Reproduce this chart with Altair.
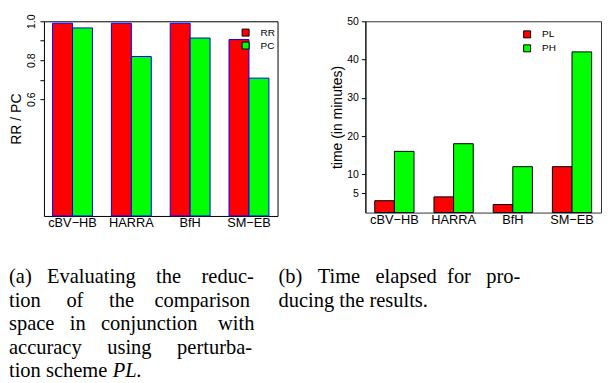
import altair as alt
import pandas as pd

# ---------------- data ----------------
methods = ["cBV−HB", "HARRA", "BfH", "SM−EB"]

left_series = ["RR", "PC"]
rr_values = [0.99, 0.99, 0.99, 0.906]
pc_values = [0.966, 0.819, 0.914, 0.708]
left_ticks = [0.6, 0.7, 0.8, 0.9, 1.0]

right_series = ["PL", "PH"]
pl_values = [3.1, 4.1, 2.1, 12.0]
ph_values = [16.0, 18.0, 12.0, 42.0]
right_ticks = [5, 10, 20, 30, 40, 50]

NB = "\u00a0"
caption_a = [
    "(a)" + NB * 3 + "Evaluating" + NB * 4 + "the" + NB * 4 + "reduc-",
    "tion" + NB * 5 + "of" + NB * 5 + "the" + NB * 4 + "comparison",
    "space" + NB * 3 + "in" + NB * 3 + "conjunction" + NB * 4 + "with",
    "accuracy" + NB * 5 + "using" + NB * 5 + "perturba-",
    "tion scheme ",
]
caption_a_italic = ["PL."]
caption_b = [
    "(b)" + NB * 3 + "Time" + NB * 3 + "elapsed" + NB * 2 + "for" + NB * 3 + "pro-",
    "ducing the results.",
]

RED = "#ff0000"
GREEN = "#00ff00"
SANS = "Liberation Sans"
SERIF = "Liberation Serif"

left_df = pd.DataFrame({
    "method": methods * 2,
    "series": [left_series[0]] * len(methods) + [left_series[1]] * len(methods),
    "value": rr_values + pc_values,
})
right_df = pd.DataFrame({
    "method": methods * 2,
    "series": [right_series[0]] * len(methods) + [right_series[1]] * len(methods),
    "value": pl_values + ph_values,
})

def legend(x, y, row_pad):
    return alt.Legend(
        title=None, orient="none", legendX=x, legendY=y, padding=0,
        symbolType="square", symbolSize=49, symbolStrokeColor="black",
        symbolStrokeWidth=1, symbolOpacity=1, labelFont=SANS, labelFontSize=10,
        labelColor="black", labelOffset=10, rowPadding=row_pad,
    )

x_axis = alt.Axis(ticks=False, tickSize=0, domain=False, labelAngle=0, labelPadding=1,
                  labelFontSize=12.8, labelColor="black", labelFont=SANS)

left = alt.Chart(left_df).mark_bar(stroke="#0000ff", strokeWidth=1).encode(
    x=alt.X("method:N", sort=methods, title=None,
            scale=alt.Scale(paddingInner=0.322, paddingOuter=0.147), axis=x_axis),
    xOffset=alt.XOffset("series:N", sort=left_series,
                        scale=alt.Scale(domain=left_series, paddingInner=0, paddingOuter=0)),
    y=alt.Y("value:Q", title="RR / PC",
            scale=alt.Scale(domain=[0, 1], nice=False, zero=True),
            axis=alt.Axis(values=left_ticks,
                          labelExpr="round(datum.value*10) % 2 == 1 ? '' : format(datum.value, '.1f')",
                          labelAngle=-90, labelAlign="center", labelBaseline="bottom",
                          labelOverlap=False, tickSize=4, labelPadding=3,
                          titlePadding=3.5, grid=False, domain=False)),
    color=alt.Color("series:N", sort=left_series,
                    scale=alt.Scale(domain=left_series, range=[RED, GREEN]),
                    legend=legend(197, 6.3, 1)),
).properties(width=234, height=195,
             view=alt.ViewBackground(stroke="black", strokeWidth=1))

right = alt.Chart(right_df).mark_bar(stroke="black", strokeWidth=1).encode(
    x=alt.X("method:N", sort=methods, title=None,
            scale=alt.Scale(paddingInner=0.337, paddingOuter=0.158), axis=x_axis),
    xOffset=alt.XOffset("series:N", sort=right_series,
                        scale=alt.Scale(domain=right_series, paddingInner=0, paddingOuter=0)),
    y=alt.Y("value:Q", title="time (in minutes)",
            scale=alt.Scale(domain=[0, 50], nice=False, zero=True),
            axis=alt.Axis(values=right_ticks, format="d", labelAngle=0,
                          labelAlign="right", labelBaseline="middle",
                          labelOverlap=False, tickSize=4, labelPadding=3,
                          titlePadding=2.3, grid=False, domain=True,
                          domainColor="black")),
    color=alt.Color("series:N", sort=right_series,
                    scale=alt.Scale(domain=right_series, range=[RED, GREEN]),
                    legend=legend(157, 8.1, 2)),
).properties(width=236, height=191.6,
             title=alt.TitleParams(" ", fontSize=2, offset=5),
             view=alt.ViewBackground(stroke="#333333", strokeWidth=1))

top_row = alt.hconcat(left, right, spacing=51).resolve_scale(
    color="independent", x="independent", y="independent", xOffset="independent"
).resolve_legend(color="independent")

cap_df = pd.DataFrame({
    "col": ["a"] * len(caption_a) + ["b"] * len(caption_b),
    "line": list(range(len(caption_a))) + list(range(len(caption_b))),
    "text": caption_a + caption_b,
})
cap_it_df = pd.DataFrame({
    "col": ["a"] * len(caption_a_italic),
    "line": [len(caption_a) - 1] * len(caption_a_italic),
    "text": caption_a_italic,
})

cap_x = alt.X("col:N", scale=alt.Scale(type="point", padding=0, range=[-35, 235]), axis=None)
cap_y = alt.Y("line:O", scale=alt.Scale(type="point", padding=0), axis=None)

cap_main = alt.Chart(cap_df).mark_text(
    align="left", baseline="alphabetic", font=SERIF, fontSize=20.5, color="black"
).encode(x=cap_x, y=cap_y, text="text:N")

cap_it = alt.Chart(cap_it_df).mark_text(
    align="left", baseline="alphabetic", font=SERIF, fontSize=20.5,
    fontStyle="italic", color="black", dx=104
).encode(x=cap_x, y=cap_y, text="text:N")

captions = alt.layer(cap_main, cap_it).properties(
    width=240, height=94.8,
    view=alt.ViewBackground(stroke="transparent"))

chart = alt.vconcat(top_row, captions, spacing=35).properties(
    padding=0
).configure(font=SANS).configure_axis(
    labelFont=SANS, titleFont=SANS, labelFontSize=10.5, titleFontSize=14,
    titleFontWeight="normal", labelColor="black", titleColor="black",
    tickColor="black",
).configure_title(font=SANS)

chart.save("out.html", embed_options={"renderer": "svg", "actions": False})
